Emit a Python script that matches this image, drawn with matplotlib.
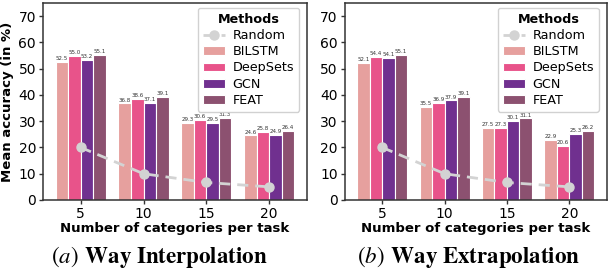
import numpy as np
import matplotlib
matplotlib.use("Agg")
import matplotlib.pyplot as plt

categories = ["5", "10", "15", "20"]
methods = ["BILSTM", "DeepSets", "GCN", "FEAT"]
colors = ["#E6A09E", "#E8538A", "#70308F", "#8C5170"]

interp = {
    "BILSTM": [52.5, 36.8, 29.3, 24.6],
    "DeepSets": [55.0, 38.6, 30.6, 25.8],
    "GCN": [53.2, 37.1, 29.5, 24.9],
    "FEAT": [55.1, 39.1, 31.3, 26.4],
}
extrap = {
    "BILSTM": [52.1, 35.5, 27.5, 22.9],
    "DeepSets": [54.4, 36.9, 27.3, 20.6],
    "GCN": [54.1, 37.9, 30.1, 25.3],
    "FEAT": [55.1, 39.1, 31.1, 26.2],
}
random_acc = [20.0, 10.0, 6.67, 5.0]

plt.rcParams["mathtext.fontset"] = "stix"
fig = plt.figure(figsize=(6.08, 2.71), dpi=100)
ax1 = fig.add_axes([0.0707, 0.262, 0.434, 0.727])
ax2 = fig.add_axes([0.567, 0.262, 0.431, 0.727])

x = np.arange(len(categories))
w = 0.2

def draw(ax, data, ylabel, caption, cx):
    ax.plot(x, random_acc, ls="--", color="#d3d3d3", lw=2.0, marker="o",
            ms=6.5, zorder=5, label="Random", dashes=(4, 2.5))
    for i, m in enumerate(methods):
        pos = x + (i - 1.5) * w
        bars = ax.bar(pos, data[m], width=w, color=colors[i], edgecolor="white",
                      linewidth=0.8, label=m, zorder=2)
        for b, v in zip(bars, data[m]):
            ax.text(b.get_x() + b.get_width() / 2, v + 0.3, f"{v:.1f}",
                    ha="center", va="bottom", fontsize=4, color="#333333")
    ax.set_xlim(-0.6, 3.6)
    ax.set_ylim(0, 75)
    ax.set_yticks([0, 10, 20, 30, 40, 50, 60, 70])
    ax.set_xticks(x)
    ax.set_xticklabels(categories)
    ax.tick_params(labelsize=10, length=3, width=1, color="#333333", pad=2)
    for s in ax.spines.values():
        s.set_color("#333333")
        s.set_linewidth(1.1)
    ax.set_xlabel("Number of categories per task", fontsize=9.5, fontweight="bold", labelpad=1)
    if ylabel:
        ax.set_ylabel("Mean accuracy (in %)", fontsize=9.5, fontweight="bold", labelpad=3)
    ax.legend(loc="upper right", title="Methods", fontsize=9.2,
              title_fontproperties={"weight": "bold", "size": 9.2},
              handlelength=1.7, borderpad=0.4, labelspacing=0.25,
              handletextpad=0.6, framealpha=0.9, edgecolor="#cccccc",
              bbox_to_anchor=(0.985, 0.995), borderaxespad=0.3)
    fig.text(cx, 0.052, caption, ha="center", va="center", fontsize=16.5)

draw(ax1, interp, True, r"$(a)$ $\mathbf{Way\ Interpolation}$", 0.262)
draw(ax2, extrap, False, r"$(b)$ $\mathbf{Way\ Extrapolation}$", 0.77)

fig.savefig("out.png", dpi=100)
